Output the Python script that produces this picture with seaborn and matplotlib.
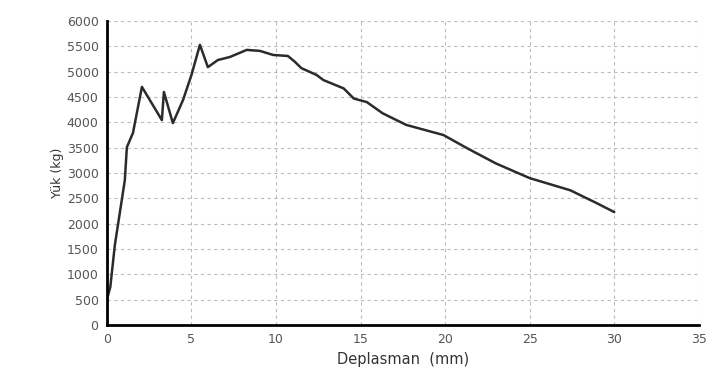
import pandas as pd
import matplotlib.pyplot as plt
import seaborn as sns

deplasman = [0.0, 0.2, 0.47, 1.06, 1.18, 1.54, 2.07, 3.25, 3.37, 3.9, 4.5, 5.0, 5.5,
             5.97, 6.56, 7.27, 8.27, 9.05, 9.83, 10.7, 11.1, 11.5, 12.4, 12.8, 14.0,
             14.6, 15.37, 16.3, 17.7, 19.9, 21.3, 23.0, 25.0, 27.4, 29.0, 30.0]
yuk = [500, 750, 1580, 2860, 3510, 3790, 4700, 4045, 4600, 3985, 4440, 4935, 5530,
       5090, 5230, 5290, 5430, 5410, 5330, 5310, 5200, 5070, 4935, 4835, 4670,
       4470, 4400, 4180, 3950, 3750, 3490, 3190, 2900, 2660, 2400, 2230]

sns.set_theme(style="white")
plt.rcParams['font.family'] = ['DejaVu Sans']

d = pd.DataFrame({'x': deplasman, 'y': yuk})

fig = plt.figure(figsize=(7.08, 3.82), dpi=100)
ax = fig.add_axes([0.151, 0.149, 0.836, 0.796])
sns.lineplot(data=d, x='x', y='y', sort=False, color='#2b2b2b', linewidth=1.8, ax=ax)

ax.set_xlim(0, 35)
ax.set_ylim(0, 6000)
ax.set_xticks(range(0, 36, 5))
ax.set_yticks(range(0, 6001, 500))
ax.grid(True, color='#bbbbbb', linestyle=(0, (3, 3)), linewidth=0.8)
ax.set_axisbelow(True)
for s in ['top', 'right']:
    ax.spines[s].set_visible(False)
for s in ['left', 'bottom']:
    ax.spines[s].set_color('black')
    ax.spines[s].set_linewidth(2)
ax.tick_params(axis='both', labelsize=9, colors='#555555', length=0, pad=6)
ax.set_xlabel('Deplasman  (mm)', fontsize=10.5, color='#333333')
ax.set_ylabel('Yük (kg)', fontsize=9, color='#333333', labelpad=2)

plt.savefig('out.png', dpi=100)
